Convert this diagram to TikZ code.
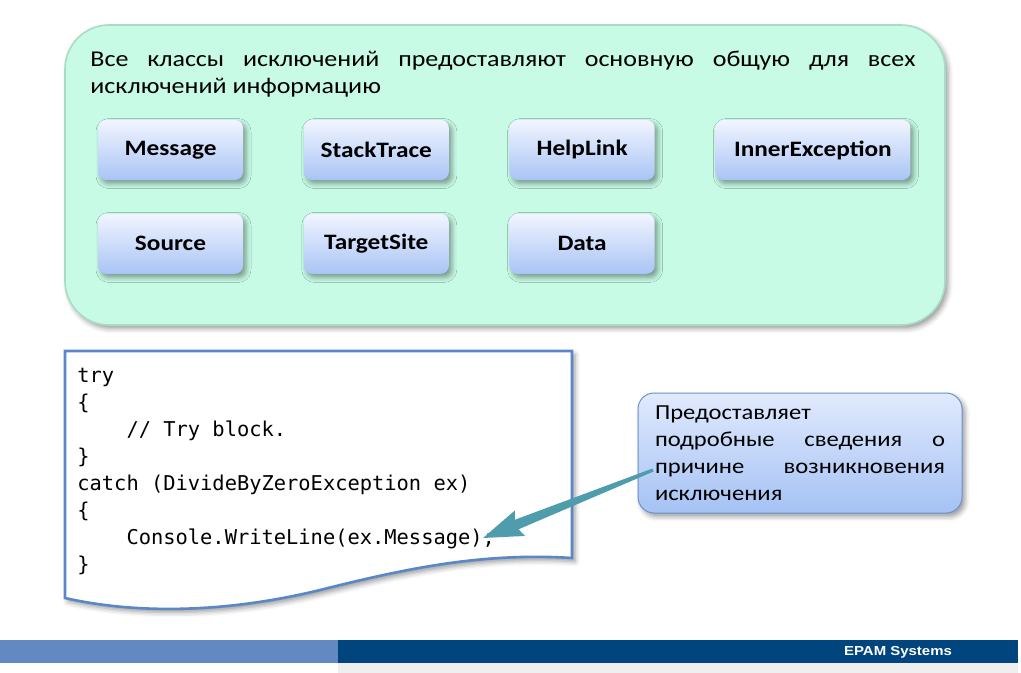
\documentclass[tikz,border=0pt]{standalone}
\usepackage{fontspec}
\setmainfont[FakeStretch=1.15]{Carlito}
\setmonofont{DejaVu Sans Mono}
\newfontfamily\footfont[FakeStretch=1.15]{Liberation Sans}
\usetikzlibrary{positioning,calc,shadows.blur}

\definecolor{mint}{HTML}{C7FBE6}
\definecolor{mintedge}{HTML}{A9DCC6}
\definecolor{btntop}{HTML}{F1F5FF}
\definecolor{btnbot}{HTML}{A9C4F5}
\definecolor{calltop}{HTML}{E0EAFD}
\definecolor{callbot}{HTML}{A5C2F4}
\definecolor{calledge}{HTML}{6E90CF}
\definecolor{codeedge}{HTML}{5A87C5}
\definecolor{msgteal}{HTML}{4E9CAC}
\definecolor{footlight}{HTML}{6289C1}
\definecolor{footdark}{HTML}{00457E}
\definecolor{footgray}{HTML}{EFEFEF}

% one monospaced space
\newcommand\csp{\hspace*{0.602em}}

\begin{document}
\begin{tikzpicture}[x=0.5pt, y=-0.5pt,
    softshadow/.style={blur shadow={shadow xshift=1.5pt, shadow yshift=-1.8pt,
        shadow blur radius=2.5pt, shadow opacity=40}},
    propbox/.style={rounded corners=4pt, top color=btntop, bottom color=btnbot,
        minimum width=72.5pt, minimum height=30pt, inner sep=0pt, softshadow,
        font=\bfseries\fontsize{11}{13}\selectfont},
    calloutbox/.style={rounded corners=8pt, draw=calledge, line width=0.5pt,
        top color=calltop, bottom color=callbot, softshadow,
        minimum width=162pt, minimum height=60pt, inner xsep=8.5pt,
        text width=145pt, align=justify, font=\fontsize{10.7}{13.5}\selectfont},
    codesheet/.style={draw=codeedge, line width=1.3pt, fill=white, softshadow},
    msgarrow/.style={fill=msgteal}]
    \useasboundingbox (0,0) rectangle (1021,673);

    % big panel with the properties
    \draw[mintedge, line width=0.8pt, fill=mint, rounded corners=22pt, softshadow]
        (65,25) rectangle (945,325);
    \node[anchor=base west, inner sep=0pt, text width=412.5pt, align=justify,
          font=\fontsize{11.3}{13.5}\selectfont] (title) at (90,67)
        {Все классы исключений предоставляют основную общую для всех\linebreak
         исключений информацию};

    \node[propbox] (msg) at (170.5,150) {Message};
    \node[propbox, right=30pt of msg] (stack) {StackTrace};
    \node[propbox, right=30pt of stack] (help) {HelpLink};
    \node[propbox, right=30pt of help, minimum width=97.5pt] (inner) {InnerException};
    \node[propbox, below=16.5pt of msg] (source) {Source};
    \node[propbox, right=30pt of source] (target) {TargetSite};
    \node[propbox, right=30pt of target] (data) {Data};

    % code sheet
    \draw[codesheet] (65,351) -- (572,351) -- (572,558)
        .. controls (480,552) and (400,570) .. (320,590)
        .. controls (230,612) and (140,615) .. (65,598) -- cycle;
    \node[anchor=base west, inner sep=0pt, text width=250pt, align=left,
          font=\ttfamily\fontsize{10.2}{13.5}\selectfont] (code) at (77,382)
        {try\\
         \{\\
         \csp\csp\csp\csp//\csp Try\csp block.\\
         \}\\
         catch\csp(DivideByZeroException\csp ex)\\
         \{\\
         \csp\csp\csp\csp Console.WriteLine(ex.Message);\\
         \}};

    % callout
    \node[calloutbox] (callout) at (800,453)
        {Предоставляет\newline
         подробные сведения о\linebreak
         причине возникновения\linebreak
         исключения};
    \coordinate (tail) at (653,470);
    \coordinate (tip) at (483,538);
    \fill[msgarrow] (tip) -- ($(tip)!0.23!19:(tail)$) -- ($(tip)!0.2!8:(tail)$)
        -- ($(tail)!0.8pt!-90:(tip)$) -- ($(tail)!0.8pt!90:(tip)$)
        -- ($(tip)!0.2!-8:(tail)$) -- ($(tip)!0.23!-19:(tail)$) -- cycle;

    % footer
    \fill[footlight] (0,640) rectangle (338,663);
    \fill[footdark] (338,640) rectangle (1018,663);
    \fill[footgray] (338,663) rectangle (1018,673);
    \node[text=white, font=\footfont\bfseries\fontsize{6.5}{7}\selectfont] (epam) at (898,652) {EPAM Systems};
\end{tikzpicture}
\end{document}
